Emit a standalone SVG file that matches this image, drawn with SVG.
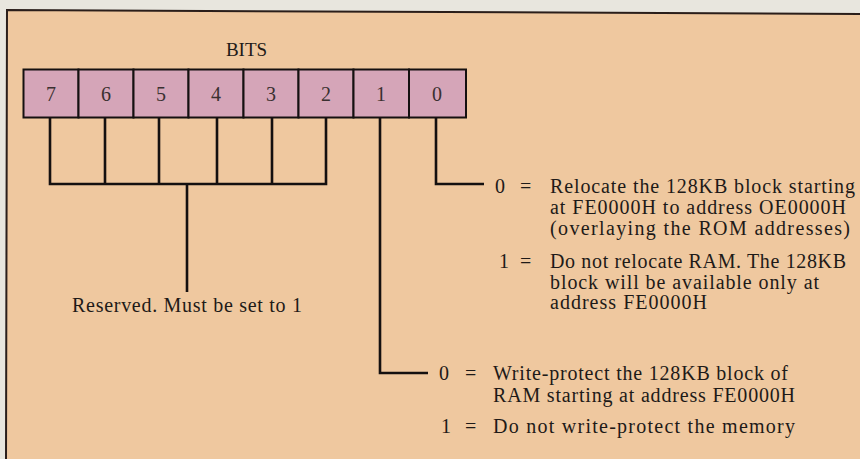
<svg xmlns="http://www.w3.org/2000/svg" width="860" height="459" viewBox="0 0 860 459">
<style>
.t{font-family:"Liberation Serif","Times New Roman",serif;fill:#1e1a18;}
.d{font-size:20px;}
.n{font-size:20px;fill:#3a3030;text-anchor:middle;}
.box{fill:#d5a5b8;stroke:#151010;stroke-width:2;}
.ln{fill:none;stroke:#141010;stroke-width:2.6;}
</style>
<rect x="0" y="0" width="860" height="459" fill="#e8e6de"/>
<polygon points="7,10 860,14 860,459 6,459" fill="#efc89f"/>
<path d="M6,459 L7,10 L860,14" fill="none" stroke="#2a1e1a" stroke-width="2"/>
<text class="t" x="246.5" y="56" font-size="19" text-anchor="middle">BITS</text>
<g id="bit7"><rect class="box" x="23.5" y="69.5" width="55" height="48"/><text class="t n" x="51" y="101">7</text></g>
<g id="bit6"><rect class="box" x="78.5" y="69.5" width="55" height="48"/><text class="t n" x="106" y="101">6</text></g>
<g id="bit5"><rect class="box" x="133.5" y="69.5" width="55" height="48"/><text class="t n" x="161" y="101">5</text></g>
<g id="bit4"><rect class="box" x="188.5" y="69.5" width="55" height="48"/><text class="t n" x="216" y="101">4</text></g>
<g id="bit3"><rect class="box" x="243.5" y="69.5" width="55" height="48"/><text class="t n" x="271" y="101">3</text></g>
<g id="bit2"><rect class="box" x="298.5" y="69.5" width="55" height="48"/><text class="t n" x="326" y="101">2</text></g>
<g id="bit1"><rect class="box" x="353.5" y="69.5" width="55.5" height="48"/><text class="t n" x="381" y="101">1</text></g>
<g id="bit0"><rect class="box" x="409" y="69.5" width="57" height="48"/><text class="t n" x="437" y="101">0</text></g>
<g id="connectors">
<path class="ln" d="M50,118 V184 H326 V118"/>
<path class="ln" d="M105,118 V184 M159,118 V184 M217,118 V184 M272,118 V184"/>
<path class="ln" d="M187,184 V292"/>
<path class="ln" d="M436,118 V184 H484"/>
<path class="ln" d="M380,118 V373 H428"/>
</g>
<g id="reserved"><text class="t d" x="72" y="312" textLength="230">Reserved. Must be set to 1</text></g>
<g id="bit0-desc">
<text class="t d" x="495" y="193">0</text><text class="t d" x="520" y="193">=</text>
<text class="t d" x="550" y="193" textLength="305">Relocate the 128KB block starting</text>
<text class="t d" x="550" y="214" textLength="296">at FE0000H to address OE0000H</text>
<text class="t d" x="550" y="235" textLength="300">(overlaying the ROM addresses)</text>
<text class="t d" x="499" y="268">1</text><text class="t d" x="520" y="268">=</text>
<text class="t d" x="550" y="268" textLength="296">Do not relocate RAM. The 128KB</text>
<text class="t d" x="550" y="289" textLength="269">block will be available only at</text>
<text class="t d" x="550" y="309" textLength="157">address FE0000H</text>
</g>
<g id="bit1-desc">
<text class="t d" x="439" y="380">0</text><text class="t d" x="465" y="380">=</text>
<text class="t d" x="493" y="380" textLength="295">Write-protect the 128KB block of</text>
<text class="t d" x="493" y="402" textLength="302">RAM starting at address FE0000H</text>
<text class="t d" x="441" y="433">1</text><text class="t d" x="465" y="433">=</text>
<text class="t d" x="493" y="433" textLength="302">Do not write-protect the memory</text>
</g>
</svg>
